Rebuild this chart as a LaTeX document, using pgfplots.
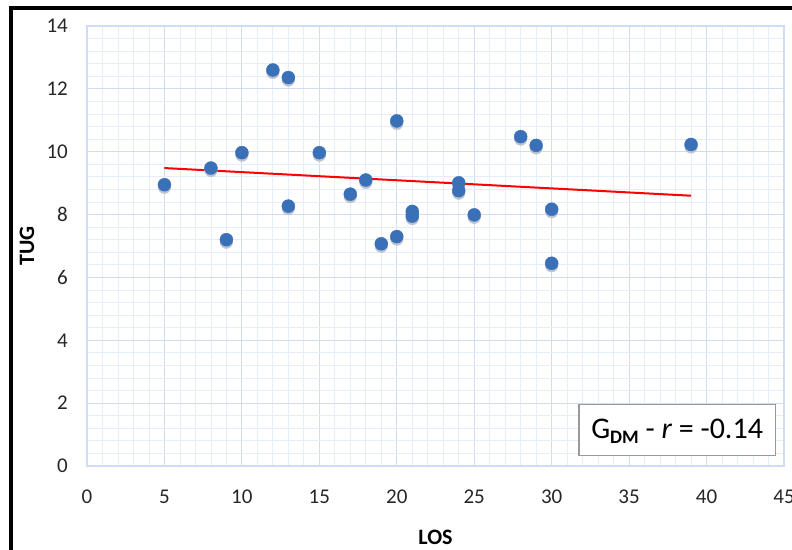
\documentclass[border=0pt]{standalone}
\usepackage{pgfplots}
\pgfplotsset{compat=1.18}
\usepackage{fontspec}
\setmainfont{Carlito}
\definecolor{ptblue}{RGB}{58,112,184}
\definecolor{shadowc}{RGB}{190,196,206}
\definecolor{majgrid}{RGB}{206,221,242}
\definecolor{mingrid}{RGB}{229,237,248}
\begin{document}
\begin{tikzpicture}[x=1pt,y=1pt]
\useasboundingbox (-87,-83) rectangle (705,466);
\draw[line width=4pt] (-75.5,-95) -- (-75.5,458) -- (720,458);
\begin{axis}[
  at={(0,0)}, anchor=south west,
  scale only axis, width=697pt, height=440pt,
  xmin=0, xmax=45, ymin=0, ymax=14,
  xtick={0,5,...,45}, ytick={0,2,...,14},
  minor x tick num=4, minor y tick num=4,
  grid=both,
  major grid style={majgrid, line width=1pt},
  minor grid style={mingrid, line width=0.8pt},
  axis line style={majgrid, line width=1.2pt},
  tick style={draw=none},
  /pgf/number format/assume math mode=true,
  tick label style={font=\fontsize{21}{21}\selectfont, text=black!85},
  yticklabel style={anchor=east, inner sep=0pt, xshift=-19pt},
  xticklabel style={anchor=north, inner sep=0pt, yshift=-24pt},
  xlabel={\textbf{LOS}}, ylabel={\textbf{TUG}},
  every axis x label/.style={at={(axis description cs:0.5,-0.1614)}, anchor=center, font=\fontsize{22}{22}\selectfont},
  every axis y label/.style={at={(axis description cs:-0.0861,0.5)}, rotate=90, anchor=center, font=\fontsize{22}{22}\selectfont},
]
\addplot[shadowc, only marks, mark=*, mark size=6.3pt, mark options={draw=none, fill=shadowc, yshift=-2.5pt}] table {
x y
5 8.95
8 9.48
9 7.2
10 9.97
12 12.6
13 12.36
13 8.27
15 9.97
17 8.65
18 9.1
19 7.07
20 10.98
20 7.3
21 8.1
21 7.95
24 9.01
24 8.76
25 7.99
28 10.48
29 10.2
30 8.17
30 6.45
39 10.23
};
\addplot[ptblue, only marks, mark=*, mark size=6.5pt, mark options={draw=none, fill=ptblue}] table {
x y
5 8.95
8 9.48
9 7.2
10 9.97
12 12.6
13 12.36
13 8.27
15 9.97
17 8.65
18 9.1
19 7.07
20 10.98
20 7.3
21 8.1
21 7.95
24 9.01
24 8.76
25 7.99
28 10.48
29 10.2
30 8.17
30 6.45
39 10.23
};
\addplot[red, line width=2pt, no marks] coordinates {(5,9.48) (39,8.60)};
\draw[draw=black!40, line width=1.6pt, fill=white] (axis cs:31.76,0.33) rectangle (axis cs:44.46,1.96);
\node[anchor=center] at (axis cs:38.1,1.1) {\fontsize{30}{30}\selectfont G\raisebox{-5pt}{\fontsize{19}{19}\selectfont\bfseries DM} - \textit{r} = -0.14};
\end{axis}
\end{tikzpicture}
\end{document}
